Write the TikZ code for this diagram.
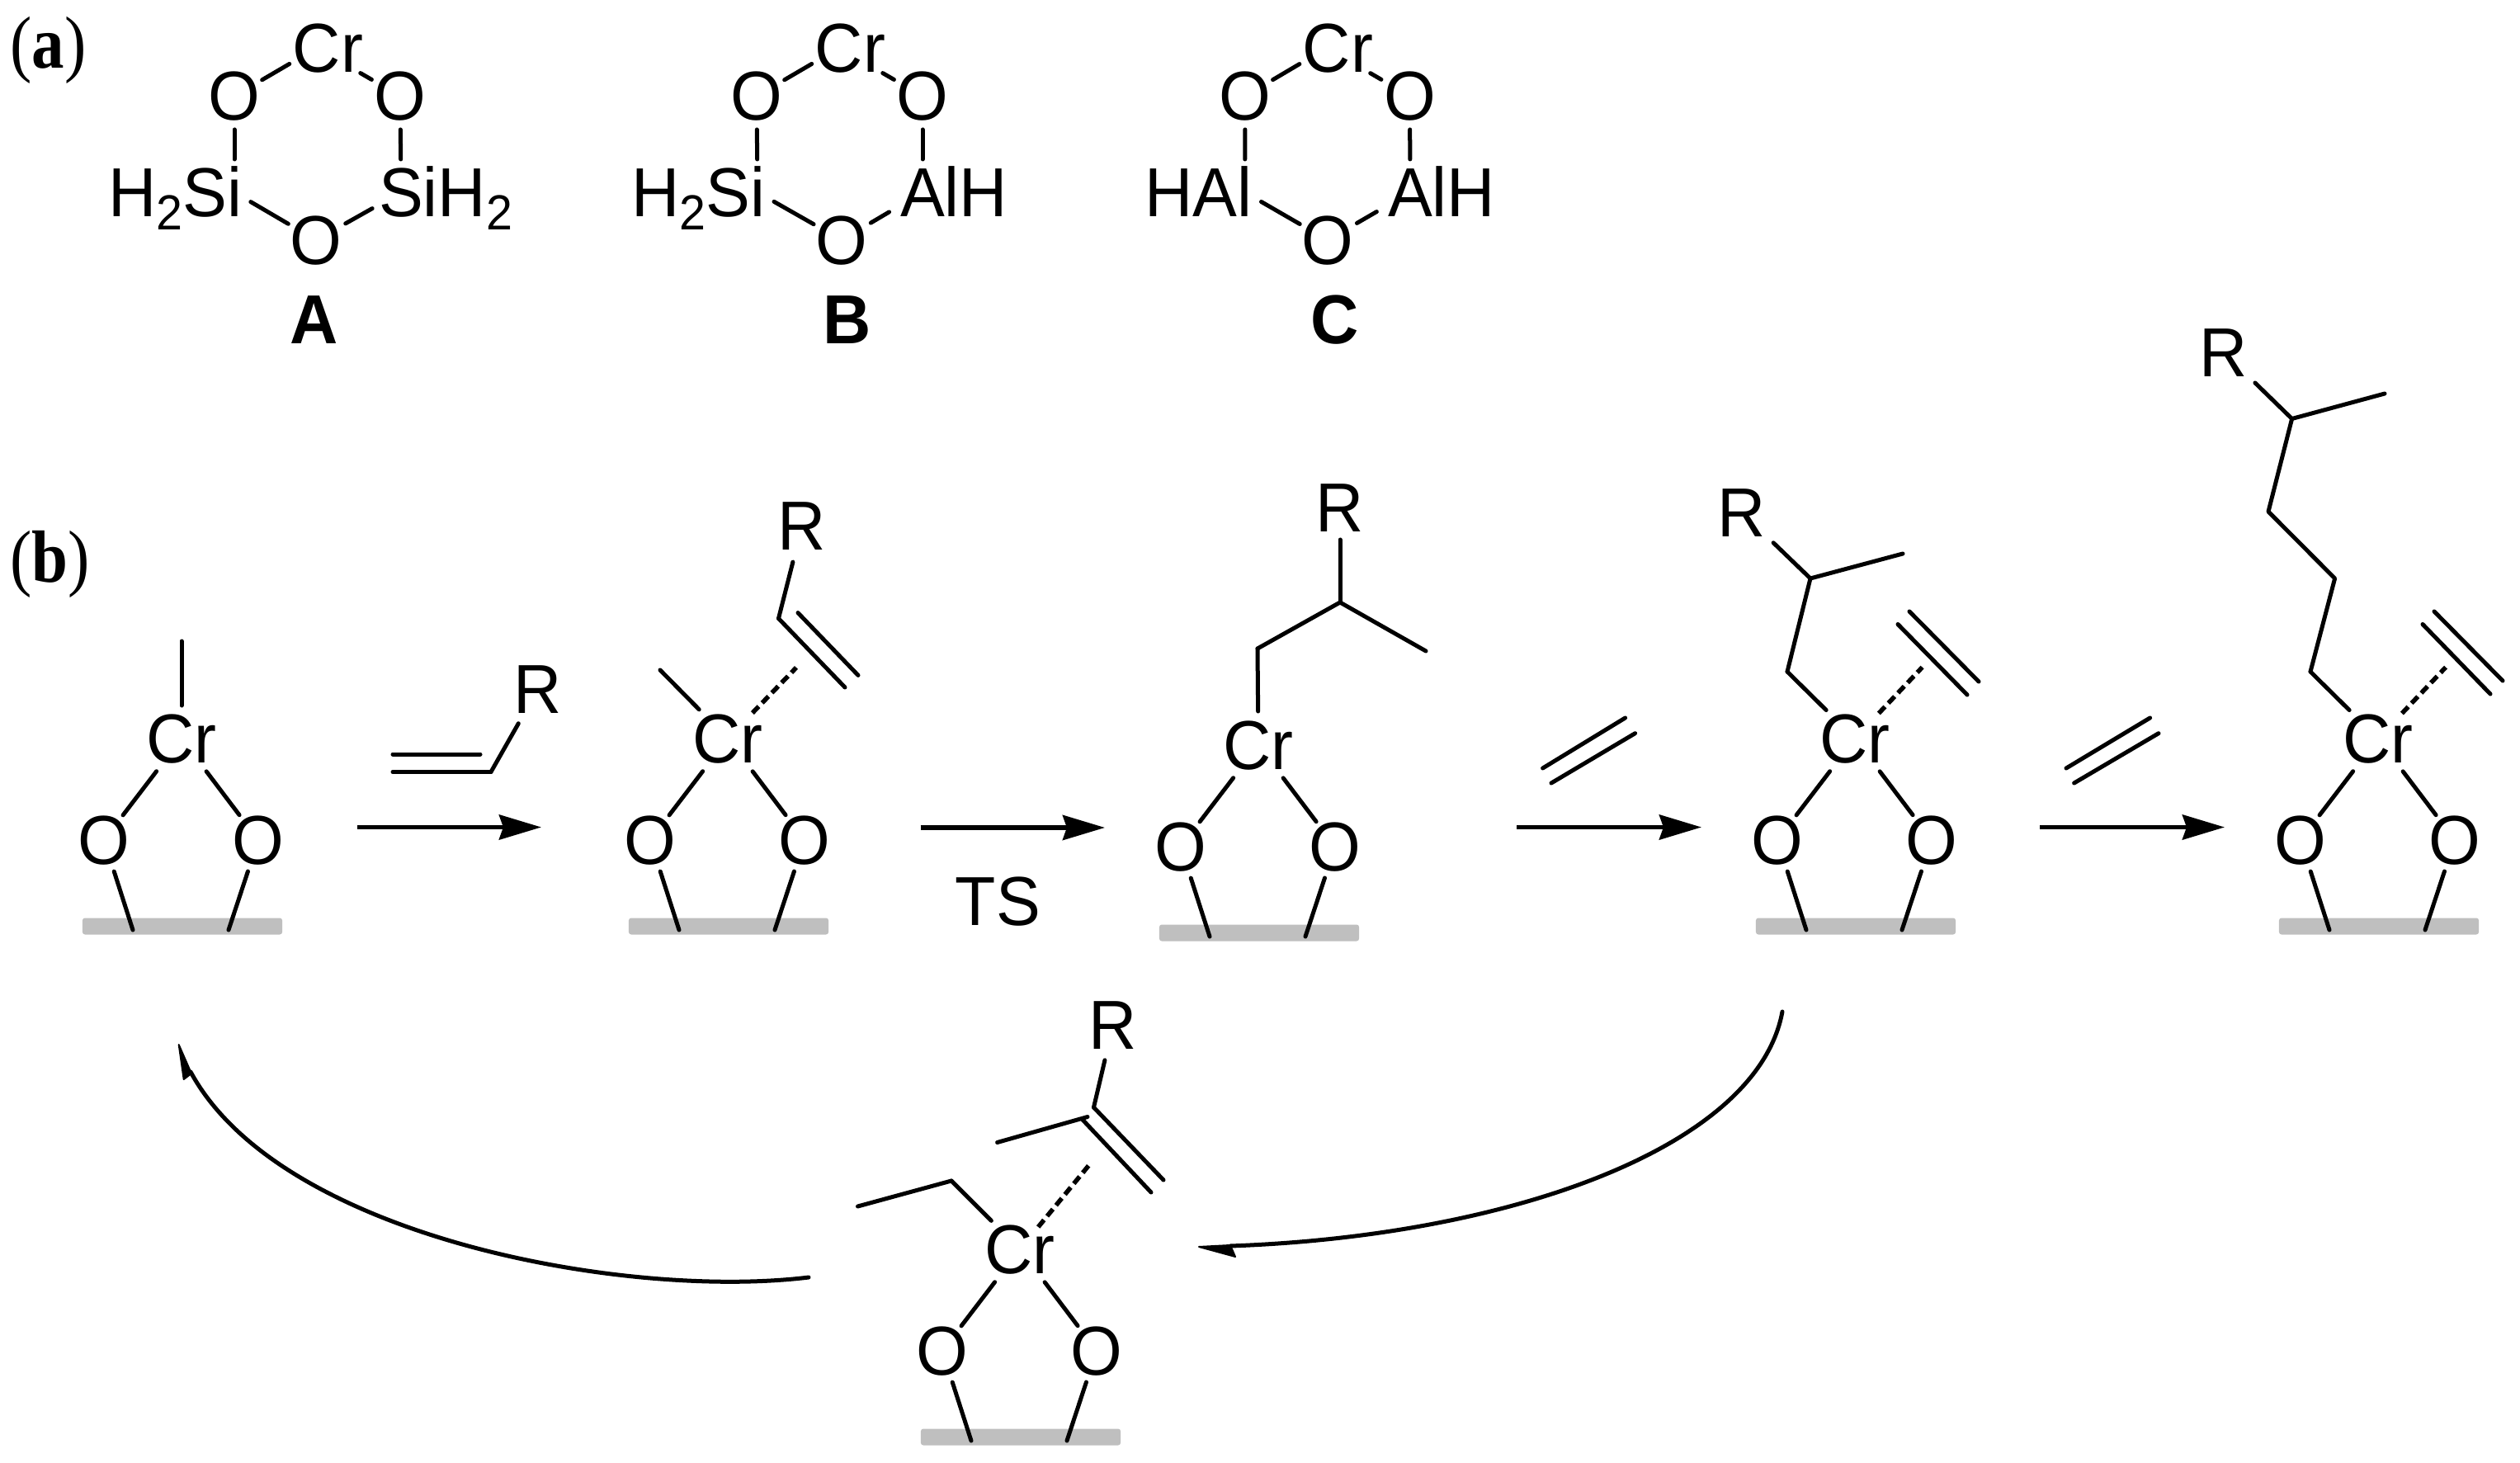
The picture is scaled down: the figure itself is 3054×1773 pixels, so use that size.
\documentclass[tikz,border=0pt]{standalone}
\usepackage{fontspec}
\setmainfont[FakeStretch=0.96]{Liberation Sans}
\newfontfamily\labelserif[FakeStretch=0.88]{Liberation Serif}
\usetikzlibrary{arrows.meta}
\newdimen\pxu \pxu=0.01cm
\newcommand\atomfont{\fontsize{23.9pt}{28pt}\selectfont}
\newcommand\subtwo{\raisebox{-0.16cm}{\fontsize{17pt}{20pt}\selectfont 2}}
\newcommand\bnd[4]{\draw[bond,shorten <=#3\pxu,shorten >=#4\pxu] (#1.center) -- (#2.center);}
\newcommand\ringbonds[2]{%
  \bnd{#1Cr}{#1Oa}{38.5}{39}
  \bnd{#1Cr}{#1Ob}{61}{40}
  \bnd{#1Oa}{#1L}{40.5}{40}
  \bnd{#1Ob}{#1M}{40.5}{40}
  \bnd{#1L}{#1Oc}{23}{39}
  \bnd{#1M}{#1Oc}{#2}{41}}
\newcommand\crunit[3]{%
  \begin{scope}[shift={(#2,#3)}]
    \node[surf] (#1S) at (1,227.5) {};
    \node[atom] (#1Cr) at (0,0) {Cr};
    \node[atom] (#1Oa) at (-94,123) {O};
    \node[atom] (#1Ob) at (93,123) {O};
    \coordinate (#1Sa) at (-59,232);
    \coordinate (#1Sb) at (57,232);
  \end{scope}
  \bnd{#1Cr}{#1Oa}{50}{38}
  \bnd{#1Cr}{#1Ob}{50}{38}
  \bnd{#1Oa}{#1Sa}{40}{0}
  \bnd{#1Ob}{#1Sb}{40}{0}}
\begin{document}
\begin{tikzpicture}[x=0.01cm,y=-0.01cm,
  bond/.style={line width=0.05cm,line cap=round,line join=round},
  pibond/.style={line width=0.055cm,dash pattern=on 0.11cm off 0.06cm},
  atom/.style={inner sep=0pt,text height=0.58cm,text depth=0pt,font=\atomfont},
  tag/.style={inner sep=0pt,text height=0.58cm,text depth=0pt,font=\atomfont\bfseries},
  panel/.style={inner sep=0pt,anchor=base west,font=\fontsize{25.5pt}{30pt}\selectfont\labelserif},
  surf/.style={fill=black!25,draw=none,rounded corners=0.03cm,minimum width=2.42cm,minimum height=0.2cm,inner sep=0pt},
  rxn/.style={line width=0.055cm,-{Stealth[length=0.51cm,width=0.30cm,inset=0.05cm]}},
  curve/.style={line width=0.05cm,line cap=round}]
\useasboundingbox (0,0) rectangle (3054,1773);

% panel labels
\node[panel] (pa) at (12,83) {(\textbf{a})};
\node[panel] (pb) at (12,705) {(\textbf{b})};

% A
\node[atom] (aCr) at (384,58) {C\rlap{r}};
\node[atom] (aOa) at (284,116.5) {O};
\node[atom] (aOb) at (485,116.5) {O};
\node[atom] (aOc) at (383,291) {O};
\node[atom] (aL) at (284,233) {\llap{H\subtwo S}i};
\node[atom] (aM) at (486,233) {S\rlap{iH\subtwo}};
\ringbonds{a}{40}
\node[tag] (aT) at (381,387) {A};

% B
\node[atom] (bCr) at (1017,58) {C\rlap{r}};
\node[atom] (bOa) at (917,116.5) {O};
\node[atom] (bOb) at (1118,116.5) {O};
\node[atom] (bOc) at (1020,291) {O};
\node[atom] (bL) at (918,233) {\llap{H\subtwo S}i};
\node[atom] (bM) at (1118,233) {A\rlap{lH}};
\ringbonds{b}{47}
\node[tag] (bT) at (1027,387) {B};

% C
\node[atom] (cCr) at (1608,58) {C\rlap{r}};
\node[atom] (cOa) at (1509,116.5) {O};
\node[atom] (cOb) at (1708.5,116.5) {O};
\node[atom] (cOc) at (1609,291) {O};
\node[atom] (cL) at (1508.6,233) {\llap{HA}l};
\node[atom] (cM) at (1709,233) {A\rlap{lH}};
\ringbonds{c}{47}
\node[tag] (cT) at (1618,387) {C};

% Panel b units
\crunit{u}{220}{895}
\crunit{v}{882}{895}
\crunit{w}{1525}{903}
\crunit{x}{2248}{895}
\crunit{y}{2882}{895}
\crunit{z}{1236}{1514}

% unit 1
\coordinate (uMe) at (220,777);
\bnd{uCr}{uMe}{40}{0}

% reagent 1
\node[atom] (r1R) at (652,835) {R};
\coordinate (r1a) at (595,935.5);
\coordinate (r1b) at (476,935.5);
\coordinate (r1c) at (582,914);
\coordinate (r1d) at (476,914);
\draw[bond] (r1b) -- (r1a);
\draw[bond] (r1c) -- (r1d);
\bnd{r1R}{r1a}{48}{0}

% unit 2
\coordinate (vMe) at (800,812);
\bnd{vCr}{vMe}{49.5}{0}
\coordinate (vPi) at (965,809);
\draw[pibond,shorten <=43\pxu] (vCr.center) -- (vPi);
\node[atom] (vR) at (972,637.5) {R};
\coordinate (va) at (943.5,749.5);
\coordinate (vb) at (1024,833);
\coordinate (vc) at (967,742.6);
\coordinate (vd) at (1040,818.4);
\bnd{vR}{va}{45}{0}
\draw[bond] (va) -- (vb);
\draw[bond] (vc) -- (vd);

% unit 3
\coordinate (wa) at (1524,786);
\coordinate (wb) at (1624,730);
\coordinate (wc) at (1728,789);
\node[atom] (wR) at (1624,615) {R};
\bnd{wCr}{wa}{41}{0}
\draw[bond] (wa) -- (wb) -- (wc);
\bnd{wR}{wb}{39}{0}

% reagent 2 and 3 (ethylene)
\coordinate (e1a) at (1869.6,931);
\coordinate (e1b) at (1969.6,870);
\coordinate (e1c) at (1880,949);
\coordinate (e1d) at (1981.6,888.7);
\draw[bond] (e1a) -- (e1b);
\draw[bond] (e1c) -- (e1d);
\coordinate (e2a) at (2504,931);
\coordinate (e2b) at (2605.6,870);
\coordinate (e2c) at (2513.6,949);
\coordinate (e2d) at (2616,888.7);
\draw[bond] (e2a) -- (e2b);
\draw[bond] (e2c) -- (e2d);

% unit 4
\coordinate (xa) at (2166,814);
\coordinate (xb) at (2194,701);
\coordinate (xc) at (2306,671);
\node[atom] (xR) at (2111,621) {R};
\bnd{xCr}{xa}{49}{0}
\draw[bond] (xa) -- (xb) -- (xc);
\bnd{xR}{xb}{53}{0}
\coordinate (xPi) at (2329.6,808.6);
\draw[pibond,shorten <=42\pxu] (xCr.center) -- (xPi);
\coordinate (xe1) at (2300,756.5);
\coordinate (xe2) at (2384,842);
\coordinate (xe3) at (2314,741);
\coordinate (xe4) at (2398,826);
\draw[bond] (xe1) -- (xe2);
\draw[bond] (xe3) -- (xe4);

% unit 5
\coordinate (ya) at (2800,814);
\coordinate (yb) at (2829.6,701);
\coordinate (yc) at (2749,620);
\coordinate (yd) at (2777.6,507.5);
\coordinate (ye) at (2890,477);
\node[atom] (yR) at (2695,427) {R};
\bnd{yCr}{ya}{49}{0}
\draw[bond] (ya) -- (yb) -- (yc) -- (yd) -- (ye);
\bnd{yR}{yd}{53}{0}
\coordinate (yPi) at (2964,808.6);
\draw[pibond,shorten <=42\pxu] (yCr.center) -- (yPi);
\coordinate (ye1) at (2936,756.5);
\coordinate (ye2) at (3018,841);
\coordinate (ye3) at (2950,741);
\coordinate (ye4) at (3033,825);
\draw[bond] (ye1) -- (ye2);
\draw[bond] (ye3) -- (ye4);

% bottom unit
\coordinate (za) at (1153,1431);
\coordinate (zb) at (1039.5,1462);
\bnd{zCr}{za}{49}{0}
\draw[bond] (za) -- (zb);
\coordinate (zPi) at (1320.6,1411);
\draw[pibond,shorten <=35\pxu] (zCr.center) -- (zPi);
\node[atom] (zR) at (1349,1242) {R};
\coordinate (zc) at (1325.5,1342);
\coordinate (zd) at (1410,1430);
\coordinate (ze) at (1312,1357);
\coordinate (zf) at (1395,1445);
\coordinate (zg) at (1318,1353.5);
\coordinate (zh) at (1208.6,1384.5);
\bnd{zR}{zc}{44}{0}
\draw[bond] (zc) -- (zd);
\draw[bond] (ze) -- (zf);
\draw[bond] (zg) -- (zh);

% straight arrows
\coordinate (a1s) at (433,1002.5);
\coordinate (a1e) at (656,1002.5);
\coordinate (a2s) at (1115.5,1003);
\coordinate (a2e) at (1339,1003);
\coordinate (a3s) at (1838,1002.5);
\coordinate (a3e) at (2062,1002.5);
\coordinate (a4s) at (2472,1002.5);
\coordinate (a4e) at (2696,1002.5);
\draw[rxn] (a1s) -- (a1e);
\draw[rxn] (a2s) -- (a2e);
\draw[rxn] (a3s) -- (a3e);
\draw[rxn] (a4s) -- (a4e);
\node[atom] (ts) at (1209.5,1092) {TS};

% curved arrows with half heads
\coordinate (c1s) at (2160,1226);
\coordinate (c1e) at (1491,1510);
\coordinate (c1t) at (1453,1511);
\coordinate (c1b) at (1497,1523);
\draw[curve] (c1s) .. controls (2130,1390) and (1830,1498) .. (c1e);
\fill[line join=round,draw,line width=0.02cm] (c1t) -- (c1b) -- (1491,1509) -- cycle;
\coordinate (c2s) at (980,1548);
\coordinate (c2e) at (231,1299);
\coordinate (c2t) at (216.7,1266);
\coordinate (c2b) at (222.7,1308);
\draw[curve] (c2s) .. controls (760,1575) and (340,1500) .. (c2e);
\fill[line join=round,draw,line width=0.02cm] (c2t) -- (c2b) -- (232,1301) -- cycle;
\end{tikzpicture}
\end{document}
